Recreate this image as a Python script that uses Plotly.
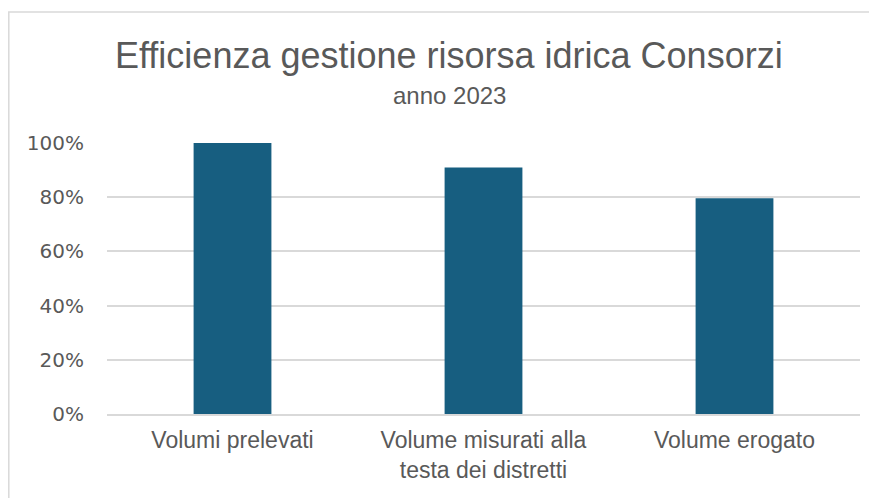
import plotly.graph_objects as go

# ----------------------------
# Data
# ----------------------------
categories = [
    "Volumi prelevati",
    "Volume misurati alla<br>testa dei distretti",
    "Volume erogato",
]
shares = [1.00, 0.91, 0.796]

tick_vals = [0, 0.2, 0.4, 0.6, 0.8, 1.0]
tick_text = ["0%", "20%", "40%", "60%", "80%", "100%"]

BAR_COLOR = "#175E80"
TEXT_GREY = "#595959"
GRID_GREY = "#D9D9D9"
SANS = "Liberation Sans, Arial, sans-serif"

# plot area in figure pixels (page is offset by the 8px body margin)
L, R, T, B = 99, 25, 135, 92
W, H = 877, 498
PW, PH = W - L - R, H - T - B


def px_x(x):
    return (x - L) / PW


def px_y(y):
    return (H - B - y) / PH


fig = go.Figure()

fig.add_trace(
    go.Bar(
        x=categories,
        y=shares,
        marker=dict(color=BAR_COLOR, line=dict(width=0)),
        hovertemplate="%{x}: %{y:.0%}<extra></extra>",
    )
)

# ----------------------------
# Title + subtitle
# ----------------------------
fig.add_annotation(
    text="Efficienza gestione risorsa idrica Consorzi",
    xref="paper", yref="paper",
    x=px_x(441), y=px_y(48),
    showarrow=False,
    font=dict(family=SANS, size=36, color=TEXT_GREY),
    xanchor="center", yanchor="middle",
)
fig.add_annotation(
    text="anno 2023",
    xref="paper", yref="paper",
    x=px_x(441), y=px_y(88),
    showarrow=False,
    font=dict(family=SANS, size=24, color=TEXT_GREY),
    xanchor="center", yanchor="middle",
)

# chart border (Excel chart area frame)
fig.add_shape(
    type="rect",
    xref="paper", yref="paper",
    x0=px_x(0.8), x1=1.2,
    y0=-0.5, y1=px_y(4),
    line=dict(color=GRID_GREY, width=1.5),
    fillcolor="rgba(0,0,0,0)",
    layer="below",
)

fig.update_layout(
    width=W,
    height=H,
    margin=dict(l=L, r=R, t=T, b=B),
    paper_bgcolor="white",
    plot_bgcolor="white",
    showlegend=False,
    bargap=0.69,
    xaxis=dict(
        showgrid=False,
        showline=True,
        linecolor=GRID_GREY,
        linewidth=1.5,
        ticks="",
        ticklabelstandoff=5,
        tickfont=dict(family=SANS, size=23, color=TEXT_GREY),
    ),
    yaxis=dict(
        range=[0, 1.0],
        tickmode="array",
        tickvals=tick_vals,
        ticktext=tick_text,
        showgrid=True,
        gridcolor=GRID_GREY,
        gridwidth=1.5,
        zeroline=False,
        showline=False,
        ticks="",
        ticklabelstandoff=22,
        tickfont=dict(family="DejaVu Sans, sans-serif", size=20, color=TEXT_GREY),
    ),
)

fig.write_html("out.html")
